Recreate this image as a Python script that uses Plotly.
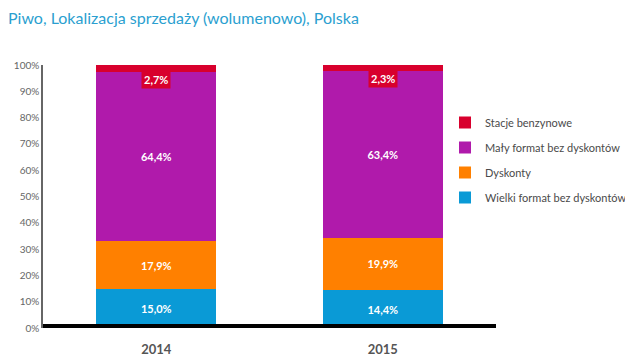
import plotly.graph_objects as go

categories = ["2014", "2015"]
series_names = ["Wielki format bez dyskontów", "Dyskonty", "Mały format bez dyskontów", "Stacje benzynowe"]
wielki = [15.0, 14.4]
dyskonty = [17.9, 19.9]
maly = [64.4, 63.4]
stacje = [2.7, 2.3]
colors = ["#0a9ad6", "#ff8000", "#b01aab", "#d8002d"]
y_ticks = [0, 10, 20, 30, 40, 50, 60, 70, 80, 90, 100]

values = [wielki, dyskonty, maly, stacje]

def fmt(v):
    return f"{v:.1f}".replace(".", ",") + "%"

fig = go.Figure()
for i, (name, vals, col) in enumerate(zip(series_names, values, colors)):
    show_text = i < 3
    fig.add_trace(go.Bar(
        x=categories, y=vals, name=name,
        marker=dict(color=col, line=dict(width=0)),
        text=[fmt(v) for v in vals] if show_text else None,
        textposition="inside" if show_text else "none",
        insidetextanchor="middle",
        textfont=dict(color="white", size=11, family="Lato", weight="bold"),
        width=0.53,
        legendgroup=f"g{i}",
        legendrank=1000 - i,
        hoverinfo="skip",
    ))

# labels for the small top segment
annotations = []
for idx, (s, w, d, m) in enumerate(zip(stacje, wielki, dyskonty, maly)):
    top_of_purple = w + d + m
    annotations.append(dict(
        x=idx, y=top_of_purple - 2.8, xref="x", yref="y",
        text="<b>" + fmt(s) + "</b>",
        showarrow=False, bgcolor=colors[3], borderpad=2,
        font=dict(color="white", size=11, family="Lato"),
        xanchor="center", yanchor="middle",
    ))

fig.update_layout(
    width=625, height=352,
    barmode="stack",
    plot_bgcolor="white", paper_bgcolor="white",
    margin=dict(l=35, r=137, t=57, b=32, autoexpand=False),
    title=dict(text="Piwo, Lokalizacja sprzedaży (wolumenowo), Polska",
               x=0.0, xanchor="left", xref="container",
               y=1 - 10 / 352, yanchor="middle", yref="container",
               font=dict(family="Lato", size=16, color="#2b9fd0")),
    legend=dict(x=(437 - 35) / 453, y=1 - (100 - 57) / 263, xanchor="left", yanchor="top",
                traceorder="grouped", tracegroupgap=6,
                font=dict(family="Lato", size=11, color="#4a4a4a"),
                itemwidth=30),
    xaxis=dict(type="category", showgrid=False, showline=False, ticks="",
               tickfont=dict(family="Lato", size=13, color="#555555", weight="bold"),
               ticklabelstandoff=12,
               range=[-0.5, 1.5]),
    yaxis=dict(range=[0, 100], tickvals=y_ticks, ticktext=[f"{t}%" for t in y_ticks],
               showgrid=False, showline=True, linecolor="#666666", linewidth=1.5,
               ticks="", zeroline=False,
               tickfont=dict(family="Lato", size=10, color="#666666")),
    font=dict(family="Lato"),
    annotations=annotations,
    shapes=[dict(type="line", xref="paper", yref="y", x0=0, x1=1, y0=0, y1=0,
                 line=dict(color="black", width=8), layer="above")],
)

fig.write_html("out.html")
